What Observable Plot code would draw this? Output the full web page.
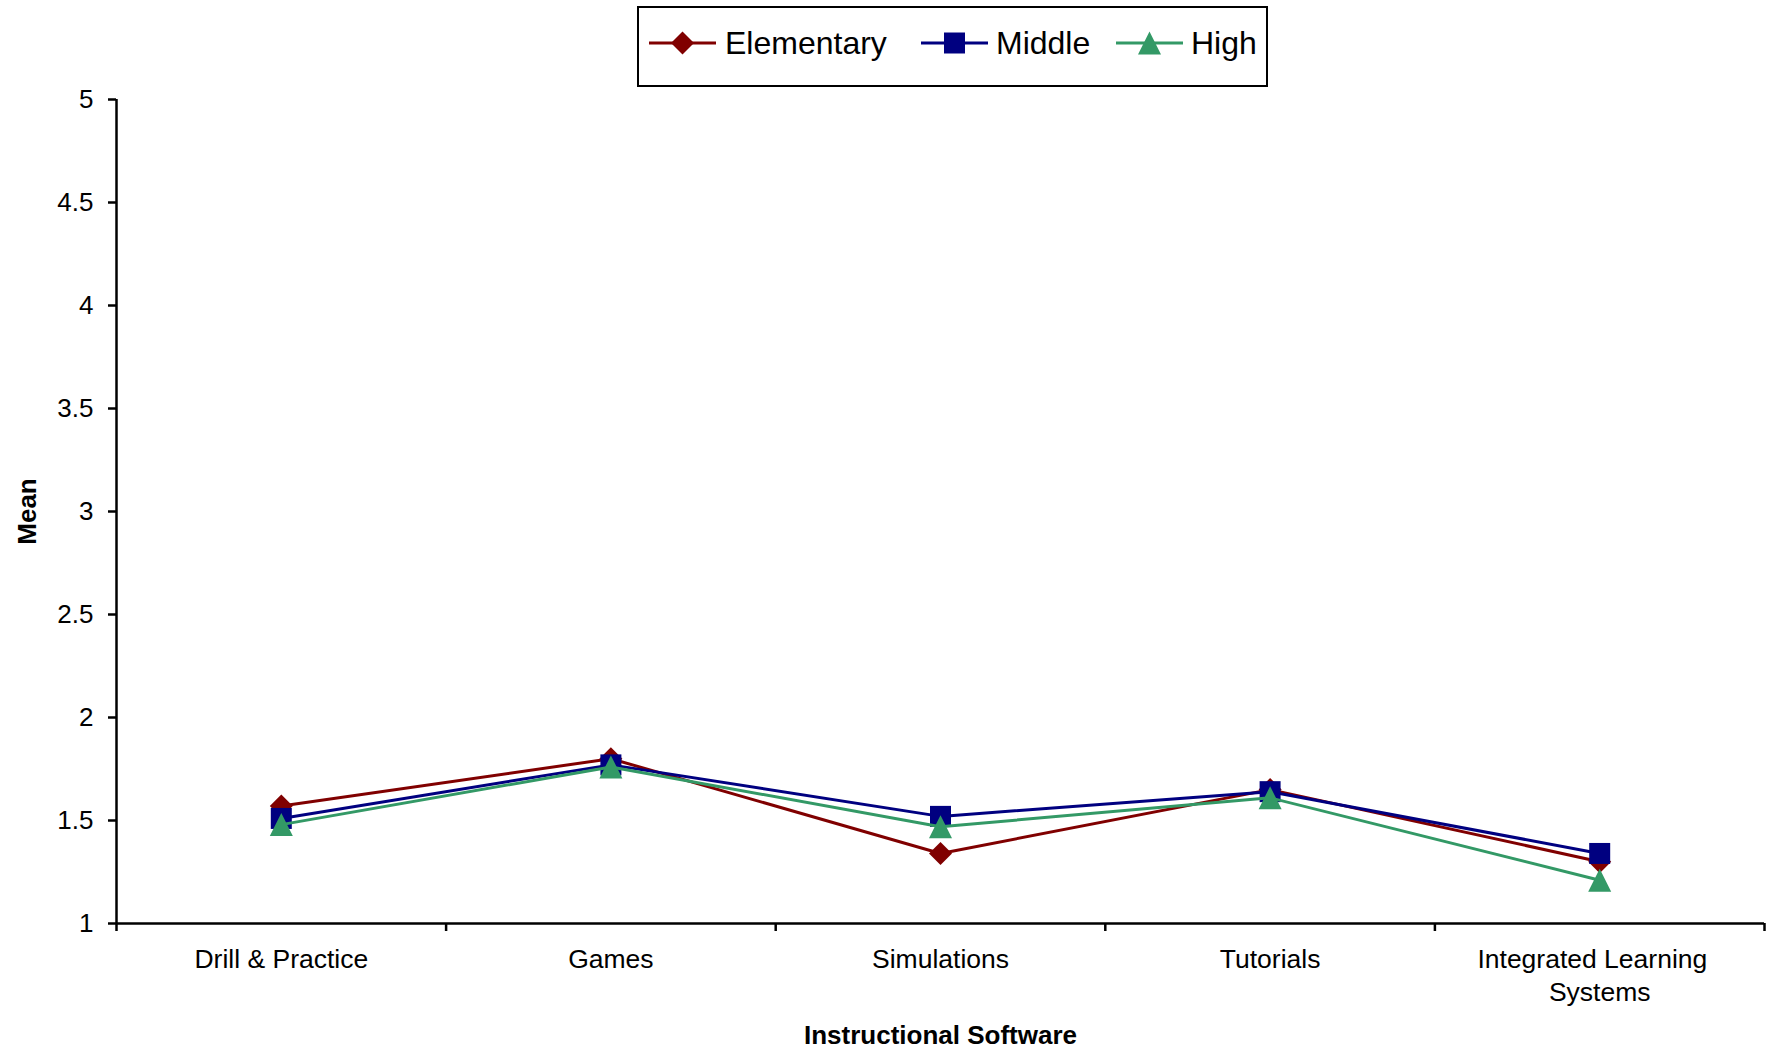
<!DOCTYPE html>
<html>
<head>
<meta charset="utf-8">
<script src="https://cdn.jsdelivr.net/npm/d3@7"></script>
<script src="https://cdn.jsdelivr.net/npm/@observablehq/plot@0.6"></script>
<style>
  html, body { margin: 0; padding: 0; background: #fff; overflow: hidden; }
  body { width: 1773px; height: 1052px; font-family: "Liberation Sans", Arial, sans-serif; }
  #legend-row { position: relative; height: 87px; }
  #legend {
    position: absolute; left: 637px; top: 6px; width: 627px; height: 77px;
    border: 2px solid #000; background: #fff;
  }
  .item { position: absolute; top: 0; height: 70px; }
  .item svg { position: absolute; top: 19px; }
  .item span {
    position: absolute; top: 0; line-height: 70px; font-size: 32px; color: #000; white-space: nowrap;
  }
  #chart svg { display: block; }
</style>
</head>
<body>
<div id="legend-row"><div id="legend"></div></div>
<div id="chart"></div>
<script>
// Mean ratings of instructional software use by school level
const categories = ["Drill & Practice", "Games", "Simulations", "Tutorials", "Integrated Learning Systems"];
const tickLabels = ["Drill & Practice", "Games", "Simulations", "Tutorials", "Integrated Learning\u00a0\u00a0\nSystems"];
const elementary = [1.57, 1.80, 1.34, 1.65, 1.30];
const middle = [1.51, 1.77, 1.52, 1.64, 1.34];
const high = [1.48, 1.76, 1.47, 1.61, 1.21];
const seriesNames = ["Elementary", "Middle", "High"];
const yTicks = [1, 1.5, 2, 2.5, 3, 3.5, 4, 4.5, 5];
const yLabel = "Mean";
const xLabel = "Instructional Software";

// Marker shapes: size is r²·π as passed by Plot, so h is the half extent
const half = size => Math.sqrt(size / Math.PI);
const diamond = {draw(ctx, size) { const h = half(size);
  ctx.moveTo(0, -h); ctx.lineTo(h, 0); ctx.lineTo(0, h); ctx.lineTo(-h, 0); ctx.closePath(); }};
const square = {draw(ctx, size) { const h = half(size);
  ctx.rect(-h, -h, 2 * h, 2 * h); }};
const triangle = {draw(ctx, size) { const h = half(size);
  ctx.moveTo(0, -h); ctx.lineTo(h, h); ctx.lineTo(-h, h); ctx.closePath(); }};

const series = [
  {name: seriesNames[0], values: elementary, color: "#800000", symbol: diamond, r: 11.5},
  {name: seriesNames[1], values: middle, color: "#000080", symbol: square, r: 10.5},
  {name: seriesNames[2], values: high, color: "#339966", symbol: triangle, r: 11.5}
];

const idx = categories.map((_, i) => i);
const boundaries = d3.range(-0.5, categories.length, 1);

const marks = [
  // axis lines
  Plot.ruleX([-0.5], {y1: 1, y2: 5, strokeWidth: 2.5}),
  Plot.ruleY([1], {x1: -0.5, x2: categories.length - 0.5, strokeWidth: 2.5}),
  Plot.axisY({ticks: yTicks, tickSize: 8, tickPadding: 15, fontSize: 26, strokeWidth: 2.5,
    tickFormat: d => String(d), label: null}),
  Plot.axisX({ticks: boundaries, tickSize: 8, tickFormat: () => "", strokeWidth: 2.5, label: null}),
  Plot.text(idx, {x: d => d, frameAnchor: "bottom", lineAnchor: "top", dy: 21,
    text: i => tickLabels[i], fontSize: 26.5, lineHeight: 1.25}),
  Plot.text([yLabel], {frameAnchor: "left", textAnchor: "middle", dx: -89, rotate: -90,
    fontSize: 26, fontWeight: "bold"}),
  Plot.text([xLabel], {frameAnchor: "bottom", dy: 120, fontSize: 26, fontWeight: "bold"})
];
for (const s of series) {
  marks.push(Plot.line(idx, {x: d => d, y: i => s.values[i], stroke: s.color, strokeWidth: 3}));
  marks.push(Plot.dot(idx, {x: d => d, y: i => s.values[i], symbol: s.symbol, r: s.r, fill: s.color, stroke: "none"}));
}

const chart = Plot.plot({
  width: 1773,
  height: 965,
  marginTop: 12,
  marginBottom: 129,
  marginLeft: 116,
  marginRight: 9,
  x: {type: "linear", domain: [-0.5, categories.length - 0.5], axis: null},
  y: {domain: [1, 5], axis: null},
  style: {fontFamily: "'Liberation Sans', Arial, sans-serif", color: "#000", background: "#fff", overflow: "visible"},
  marks
});
document.getElementById("chart").appendChild(chart);

// Legend entries: swatch line with marker, then series name
const legend = document.getElementById("legend");
const swatchX = [10, 282, 477];
const textX = [86, 357, 552];
series.forEach((s, k) => {
  const item = document.createElement("div");
  item.className = "item";
  item.style.left = swatchX[k] + "px";
  const w = 67, hgt = 32;
  const path = d3.symbol(s.symbol, s.r * s.r * Math.PI)();
  item.innerHTML =
    `<svg width="${w}" height="${hgt}" viewBox="0 0 ${w} ${hgt}">
       <line x1="0" x2="${w}" y1="${hgt / 2}" y2="${hgt / 2}" stroke="${s.color}" stroke-width="3"/>
       <path d="${path}" transform="translate(${w / 2},${hgt / 2})" fill="${s.color}"/>
     </svg>
     <span style="left:${textX[k] - swatchX[k]}px">${s.name}</span>`;
  legend.appendChild(item);
});
</script>
</body>
</html>
